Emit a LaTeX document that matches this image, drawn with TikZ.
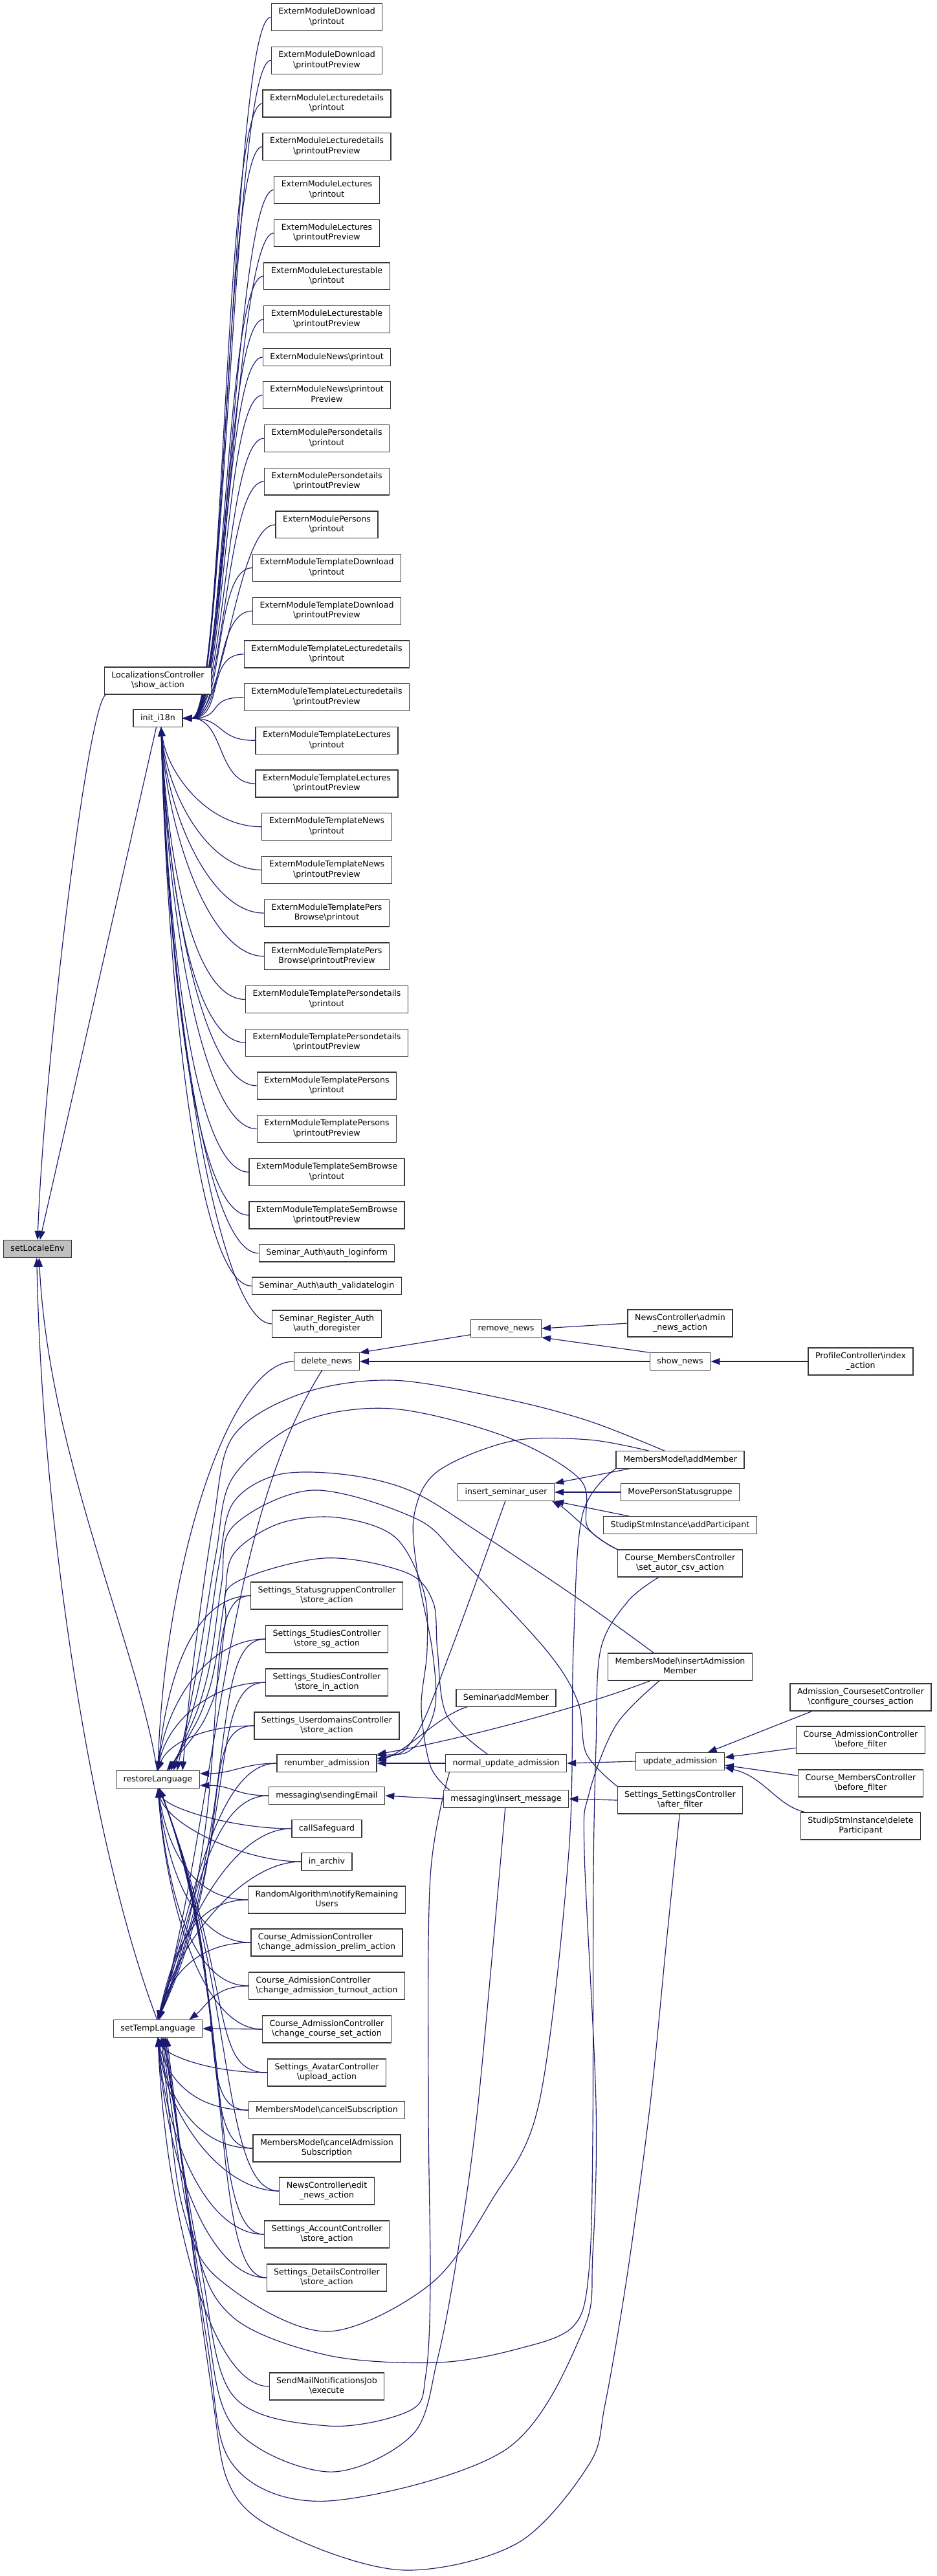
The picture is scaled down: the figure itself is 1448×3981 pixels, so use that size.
\documentclass[tikz,border=0pt]{standalone}
\usepackage{fontspec}
\setmainfont{DejaVu Sans}
\usetikzlibrary{arrows.meta,calc}
\definecolor{edgec}{RGB}{25,25,112}
\definecolor{boxc}{RGB}{55,55,55}
\definecolor{mainfill}{RGB}{191,191,191}
\newcommand\bsl{\textbackslash}
\newcommand\dstr{\rule[-3.6pt]{0pt}{13.2pt}}
\pgfdeclarelayer{back}\pgfdeclarelayer{edges}
\pgfsetlayers{back,edges,main}
\begin{document}
\begin{tikzpicture}[x=1pt,y=-1pt,
 box/.style={draw=boxc, line width=1.3pt, fill=white, inner xsep=11pt, inner ysep=6.6pt, align=center,
   font=\fontsize{12.6pt}{15.5pt}\selectfont, execute at begin node=\dstr, execute at end node=\dstr},
 lbox/.style={box, align=left},
 call/.style={draw=edgec, line width=1.15pt, {Triangle[length=14pt,width=10pt]}-}]
\begin{pgfonlayer}{back}
\fill[white] (0,0) rectangle (1448,3981);
\end{pgfonlayer}
\useasboundingbox (0,0) rectangle (1448,3981);

% ---------- left column
\node[box] (lc) at (244,1052) {LocalizationsController\\\bsl show\_action};
\node[box] (init) at (244,1110) {init\_i18n};
\node[box, fill=mainfill] (sle) at (58,1930) {setLocaleEnv};
\node[box] (rl) at (244,2750) {restoreLanguage};
\node[box] (st) at (244,3135) {setTempLanguage};

% ---------- column A (init_i18n callers)
\node[box] (e0) at (505,26.6) {ExternModuleDownload\\\bsl printout};
\node[box] (e1) at (505,93.3) {ExternModuleDownload\\\bsl printoutPreview};
\node[box] (e2) at (505,160) {ExternModuleLecturedetails\\\bsl printout};
\node[box] (e3) at (505,226.7) {ExternModuleLecturedetails\\\bsl printoutPreview};
\node[box] (e4) at (505,293.4) {ExternModuleLectures\\\bsl printout};
\node[box] (e5) at (505,360.1) {ExternModuleLectures\\\bsl printoutPreview};
\node[box] (e6) at (505,426.8) {ExternModuleLecturestable\\\bsl printout};
\node[box] (e7) at (505,493.5) {ExternModuleLecturestable\\\bsl printoutPreview};
\node[box] (e8) at (505,552) {ExternModuleNews\bsl printout};
\node[box] (e9) at (505,610.7) {ExternModuleNews\bsl printout\\Preview};
\node[box] (e10) at (505,677.4) {ExternModulePersondetails\\\bsl printout};
\node[box] (e11) at (505,744.1) {ExternModulePersondetails\\\bsl printoutPreview};
\node[box] (e12) at (505,810.8) {ExternModulePersons\\\bsl printout};
\node[box] (e13) at (505,877.5) {ExternModuleTemplateDownload\\\bsl printout};
\node[box] (e14) at (505,944.2) {ExternModuleTemplateDownload\\\bsl printoutPreview};
\node[box] (e15) at (505,1010.9) {ExternModuleTemplateLecturedetails\\\bsl printout};
\node[box] (e16) at (505,1077.6) {ExternModuleTemplateLecturedetails\\\bsl printoutPreview};
\node[box] (e17) at (505,1144.3) {ExternModuleTemplateLectures\\\bsl printout};
\node[box] (e18) at (505,1211) {ExternModuleTemplateLectures\\\bsl printoutPreview};
\node[box] (e19) at (505,1277.7) {ExternModuleTemplateNews\\\bsl printout};
\node[box] (e20) at (505,1344.4) {ExternModuleTemplateNews\\\bsl printoutPreview};
\node[box] (e21) at (505,1411.1) {ExternModuleTemplatePers\\Browse\bsl printout};
\node[box] (e22) at (505,1477.8) {ExternModuleTemplatePers\\Browse\bsl printoutPreview};
\node[box] (e23) at (505,1544.5) {ExternModuleTemplatePersondetails\\\bsl printout};
\node[box] (e24) at (505,1611.2) {ExternModuleTemplatePersondetails\\\bsl printoutPreview};
\node[box] (e25) at (505,1677.9) {ExternModuleTemplatePersons\\\bsl printout};
\node[box] (e26) at (505,1744.6) {ExternModuleTemplatePersons\\\bsl printoutPreview};
\node[box] (e27) at (505,1811.3) {ExternModuleTemplateSemBrowse\\\bsl printout};
\node[box] (e28) at (505,1878) {ExternModuleTemplateSemBrowse\\\bsl printoutPreview};
\node[box] (e29) at (505,1936.7) {Seminar\_Auth\bsl auth\_loginform};
\node[box] (e30) at (505,1987.3) {Seminar\_Auth\bsl auth\_validatelogin};
\node[box] (e31) at (505,2045.9) {Seminar\_Register\_Auth\\\bsl auth\_doregister};

% ---------- column A (lower part)
\node[box] (dn) at (505,2104) {delete\_news};
\node[box] (sgc) at (505,2466) {Settings\_StatusgruppenController\\\bsl store\_action};
\node[box] (ssg) at (505,2533) {Settings\_StudiesController\\\bsl store\_sg\_action};
\node[box] (sin) at (505,2600) {Settings\_StudiesController\\\bsl store\_in\_action};
\node[box] (ud) at (505,2667) {Settings\_UserdomainsController\\\bsl store\_action};
\node[box] (ren) at (505,2725) {renumber\_admission};
\node[box] (se) at (505,2775) {messaging\bsl sendingEmail};
\node[box] (cs) at (505,2826) {callSafeguard};
\node[box] (ia) at (505,2877) {in\_archiv};
\node[box] (ra) at (505,2936) {RandomAlgorithm\bsl notifyRemaining\\Users};
\node[lbox] (cap) at (505,3002) {Course\_AdmissionController\\\bsl change\_admission\_prelim\_action};
\node[lbox] (cat) at (505,3069) {Course\_AdmissionController\\\bsl change\_admission\_turnout\_action};
\node[box] (ccs) at (505,3136) {Course\_AdmissionController\\\bsl change\_course\_set\_action};
\node[box] (av) at (505,3203) {Settings\_AvatarController\\\bsl upload\_action};
\node[box] (mcs) at (505,3261) {MembersModel\bsl cancelSubscription};
\node[box] (mca) at (505,3320) {MembersModel\bsl cancelAdmission\\Subscription};
\node[box] (en) at (505,3386) {NewsController\bsl edit\\\_news\_action};
\node[box] (acc) at (505,3453) {Settings\_AccountController\\\bsl store\_action};
\node[box] (det) at (505,3520) {Settings\_DetailsController\\\bsl store\_action};
\node[box] (smj) at (505,3688) {SendMailNotificationsJob\\\bsl execute};

% ---------- column B
\node[box] (rn) at (782,2053) {remove\_news};
\node[box] (isu) at (782,2306) {insert\_seminar\_user};
\node[box] (sam) at (782,2624) {Seminar\bsl addMember};
\node[box] (nua) at (782,2725) {normal\_update\_admission};
\node[box] (im) at (782,2780) {messaging\bsl insert\_message};

% ---------- column C
\node[box] (an) at (1051,2045) {NewsController\bsl admin\\\_news\_action};
\node[box] (sn) at (1051,2104) {show\_news};
\node[box] (addm) at (1051,2256) {MembersModel\bsl addMember};
\node[box] (mp) at (1051,2306) {MovePersonStatusgruppe};
\node[box] (ap) at (1051,2357) {StudipStmInstance\bsl addParticipant};
\node[box] (setc) at (1051,2416) {Course\_MembersController\\\bsl set\_autor\_csv\_action};
\node[box] (iam) at (1051,2576) {MembersModel\bsl insertAdmission\\Member};
\node[box] (ua) at (1051,2722) {update\_admission};
\node[box] (af) at (1051,2782) {Settings\_SettingsController\\\bsl after\_filter};

% ---------- column D
\node[box] (pc) at (1330,2104) {ProfileController\bsl index\\\_action};
\node[box] (ccc) at (1330,2623) {Admission\_CoursesetController\\\bsl configure\_courses\_action};
\node[box] (cab) at (1330,2689) {Course\_AdmissionController\\\bsl before\_filter};
\node[box] (cmb) at (1330,2756) {Course\_MembersController\\\bsl before\_filter};
\node[box] (dp) at (1330,2822) {StudipStmInstance\bsl delete\\Participant};

\begin{pgfonlayer}{edges}
% setLocaleEnv
\draw[call] (sle.north) .. controls (68,1650) and (135,1090) .. (lc.-165);
\draw[call] (sle.75) -- (init.-100);
\draw[call] (sle.-80) .. controls (75,2250) and (215,2550) .. (rl.95);
\draw[call] (sle.-95) .. controls (65,2350) and (140,2850) .. (st.95);

% init_i18n
\foreach \i in {0,...,18}
  \draw[call] (init.east) .. controls +(65,0) and ($(e\i.west)+(-60,0)$) .. (e\i.west);
\foreach \i/\m in {19/1193,20/1223,21/1253,22/1283,23/1313,24/1343,25/1373,26/1403,27/1433,28/1463,29/1489,30/1512,31/1538}
  \draw[call] (init.-70) .. controls (258,\m) and ($(e\i.west)+(-85,0)$) .. (e\i.west);

% restoreLanguage
\draw[call] (rl.north) .. controls (254,2421) and (354,2104) .. (dn.west);
\foreach \n/\d in {sgc/-135,ssg/-102,sin/-68,ud/-35}
  \draw[call] (rl.north) .. controls ($(rl.north)+(12,\d)$) and ($(\n.west)+(-90,0)$) .. (\n.west);
\draw[call] (rl.8) .. controls +(50,0) and ($(ren.west)+(-50,0)$) .. (ren.west);
\draw[call] (rl.-8) .. controls +(50,0) and ($(se.west)+(-50,0)$) .. (se.west);
\foreach \n/\d in {cs/31,ia/56,ra/86,cap/119,cat/152,ccs/186}
  \draw[call] (rl.south) .. controls ($(rl.south)+(14,\d)$) and ($(\n.west)+(-90,0)$) .. (\n.west);
\foreach \n in {av,mcs,mca,en,acc,det}
  \draw[call] (rl.-80) .. controls (365,3080) and ($(\n.west)+(-90,0)$) .. (\n.west);
\draw[call] plot[smooth,tension=0.55] coordinates {(rl.20) (300,2560) (330,2350) (360,2220) (465,2154) (606,2133) (781,2162) (910,2196) (addm.150)};
\draw[call] plot[smooth,tension=0.55] coordinates {(rl.25) (306,2570) (334,2400) (360,2283) (465,2198) (606,2177) (781,2220) (897,2287) (908,2360) (setc.north west)};
\draw[call] plot[smooth,tension=0.55] coordinates {(rl.30) (312,2585) (338,2420) (360,2323) (430,2279) (535,2279) (637,2305) (746,2372) (900,2475) (iam.152)};
\draw[call] plot[smooth,tension=0.55] coordinates {(rl.35) (318,2600) (342,2450) (360,2359) (483,2303) (641,2346) (711,2408) (844,2550) (893,2630) (906,2710) (af.north west)};
\draw[call] plot[smooth,tension=0.55] coordinates {(rl.40) (322,2615) (346,2480) (360,2403) (430,2355) (520,2345) (610,2375) (655,2460) (660,2550) (651,2639) (665,2729) (im.171)};
\draw[call] plot[smooth,tension=0.55] coordinates {(rl.45) (328,2630) (348,2510) (360,2448) (500,2408) (627,2430) (669,2475) (676,2550) (690,2650) (nua.154)};

% setTempLanguage
\draw[call] (st.80) .. controls (340,2750) and (350,2350) .. (dn.-118);
\foreach \n/\cx/\cy in {sgc/375/2780,ssg/374/2800,sin/372/2820,ud/370/2850,ren/300/2924,se/300/2949,cs/282/2974,ia/275/3000,ra/265/3029,cap/260/3062}
  \draw[call] (st.north) .. controls (\cx,\cy) and ($(\n.west)+(-90,0)$) .. (\n.west);
\draw[call] (st.16) .. controls (320,3100) and (330,3069) .. (cat.west);
\draw[call] (st.east) -- (ccs.west);
\foreach \n/\d in {av/27,mcs/56,mca/85,en/118,acc/152,det/185,smj/269}
  \draw[call] (st.south) .. controls ($(st.south)+(12,\d)$) and ($(\n.west)+(-90,0)$) .. (\n.west);
\draw[call] plot[smooth,tension=0.55] coordinates {(st.-70) (290,3440) (360,3539) (507,3603) (665,3530) (760,3400) (833,3250) (879,2862) (886,2550) (900,2341) (addm.south west)};
\draw[call] plot[smooth,tension=0.55] coordinates {(st.-65) (300,3460) (360,3581) (507,3640) (676,3651) (800,3630) (886,3595) (910,3511) (916,3300) (917,2900) (921,2700) (928,2550) (970,2475) (setc.-147)};
\draw[call] plot[smooth,tension=0.55] coordinates {(st.-60) (310,3500) (360,3702) (507,3749) (634,3725) (658,3670) (665,3530) (662,3250) (665,2900) (nua.-171)};
\draw[call] plot[smooth,tension=0.55] coordinates {(st.-55) (315,3560) (360,3749) (507,3820) (637,3763) (676,3646) (707,3483) (739,3250) (im.-95)};
\draw[call] plot[smooth,tension=0.55] coordinates {(st.-50) (320,3620) (360,3809) (507,3865) (781,3786) (900,3604) (916,3483) (921,3250) (903,2862) (910,2773) (952,2666) (iam.-146)};
\draw[call] plot[smooth,tension=0.55] coordinates {(st.-45) (325,3680) (360,3851) (460,3925) (627,3972) (800,3930) (910,3809) (935,3716) (970,3511) (1005,3250) (1030,3000) (af.-92)};

% news
\draw[call] (dn.15) -- (rn.-170);
\draw[call] (dn.east) -- (sn.west);
\draw[call] (rn.east) -- (an.west);
\draw[call] (rn.south east) -- (sn.north west);
\draw[call] (sn.east) -- (pc.west);

% insert_seminar_user
\draw[call] (isu.north east) -- (addm.-170);
\draw[call] (isu.east) -- (mp.west);
\draw[call] (isu.south east) -- (ap.170);
\draw[call] (isu.-11) .. controls (880,2335) and (920,2380) .. (setc.north west);

% renumber_admission
\draw[call] (ren.north east) .. controls (700,2690) and (880,2645) .. (iam.-155);
\draw[call] plot[smooth,tension=0.55] coordinates {(ren.9) (640,2700) (672,2640) (668,2550) (645,2430) (640,2341) (676,2274) (791,2227) (910,2225) (addm.164)};
\draw[call] plot[smooth,tension=0.55] coordinates {(ren.5) (641,2684) (697,2550) (isu.-95)};
\draw[call] (ren.2) .. controls (630,2705) and (680,2650) .. (sam.-167);
\draw[call] (ren.east) -- (nua.west);

% update_admission
\draw[call] (nua.east) -- (ua.west);
\draw[call] (ua.18) -- (ccc.-164);
\draw[call] (ua.5) -- (cab.-173);
\draw[call] (ua.-5) -- (cmb.173);
\draw[call] (ua.-8) .. controls (1180,2745) and (1200,2790) .. (dp.166);

% messaging
\draw[call] (se.east) -- (im.west);
\draw[call] (im.east) -- (af.west);
\end{pgfonlayer}
\end{tikzpicture}
\end{document}
